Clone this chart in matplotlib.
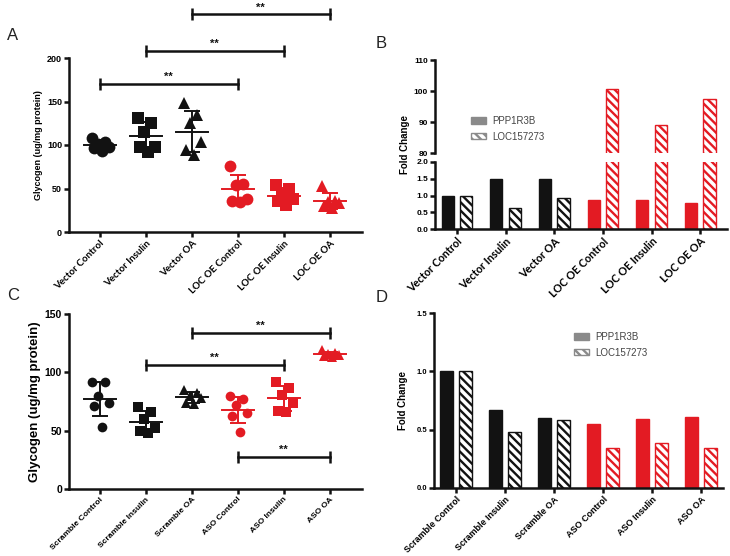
import numpy as np
import matplotlib
matplotlib.use("Agg")
import matplotlib.pyplot as plt
from matplotlib.patches import Patch

plt.rcParams['font.family'] = ['Liberation Sans', 'DejaVu Sans']
plt.rcParams['hatch.linewidth'] = 1.7

BLACK = '#121212'
RED = '#e31b23'

# ---------------- data ----------------
groups_A = ['Vector Control', 'Vector Insulin', 'Vector OA',
            'LOC OE Control', 'LOC OE Insulin', 'LOC OE OA']
A_vector_control = [108, 103, 101, 98, 96, 93]
A_vector_insulin = [131, 125, 115, 98, 98, 92]
A_vector_oa = [148, 134, 125, 103, 94, 88]
A_loc_control = [76, 55, 54, 38, 35, 36]
A_loc_insulin = [54, 50, 42, 38, 36, 31]
A_loc_oa = [53, 36, 34, 33, 30, 28]
A_sig = [(0, 3, 170), (1, 4, 208), (2, 5, 250)]

groups_B = groups_A
B_ppp1r3b = [1.0, 1.5, 1.5, 0.88, 0.86, 0.77]
B_loc157273 = [1.0, 0.63, 0.93, 100.8, 89.0, 97.5]

groups_C = ['Scramble Control', 'Scramble Insulin', 'Scramble OA',
            'ASO Control', 'ASO Insulin', 'ASO OA']
C_scr_control = [92, 92, 80, 74, 71, 53]
C_scr_insulin = [70, 66, 60, 52, 50, 48]
C_scr_oa = [85, 82, 80, 78, 74, 73]
C_aso_control = [80, 77, 72, 65, 63, 49]
C_aso_insulin = [92, 87, 81, 74, 67, 66]
C_aso_oa = [119, 117, 116, 115, 114, 113]
C_sig = [(2, 5, 134), (1, 4, 106), (3, 5, 27.5)]

groups_D = groups_C
D_ppp1r3b = [1.0, 0.67, 0.60, 0.55, 0.59, 0.61]
D_loc157273 = [1.0, 0.48, 0.58, 0.34, 0.39, 0.34]

JITTER = np.array([-0.17, 0.11, -0.05, 0.19, -0.13, 0.04])

W, H = 730, 556
fig = plt.figure(figsize=(W / 100, H / 100), dpi=100)


def ax_px(x0, y0, x1, y1):
    return fig.add_axes([x0 / W, 1 - y1 / H, (x1 - x0) / W, (y1 - y0) / H])


def style_axes(ax, lw=1.8):
    for s in ['top', 'right']:
        ax.spines[s].set_visible(False)
    for s in ['left', 'bottom']:
        ax.spines[s].set_linewidth(lw)
        ax.spines[s].set_color(BLACK)
    ax.tick_params(width=lw, length=3.5, color=BLACK, pad=1.5)


def dot_panel(ax, series, markers, colors, ms, labels, xfont, ylabel, ysize, tsize):
    for i, (vals, m, c) in enumerate(zip(series, markers, colors)):
        vals = np.asarray(vals, float)
        order = np.argsort(-vals)
        xs = np.empty(len(vals))
        xs[order] = i + JITTER[:len(vals)]
        ax.plot(xs, vals, linestyle='none', marker=m, color=c, markersize=ms,
                markeredgewidth=0, zorder=3)
        mu, sd = vals.mean(), vals.std(ddof=1)
        ax.plot([i - 0.35, i + 0.35], [mu, mu], color=c, lw=1.4, zorder=4)
        ax.errorbar([i], [mu], yerr=[sd], color=c, lw=1.4, capsize=5.5,
                    capthick=1.4, zorder=4)
    ax.set_xticks(range(len(labels)))
    ax.set_xticklabels(labels, rotation=45, ha='right', rotation_mode='anchor',
                       **xfont)
    ax.set_ylabel(ylabel, fontsize=ysize, fontweight='bold', labelpad=3)
    for t in ax.get_yticklabels():
        t.set_fontsize(tsize)
        t.set_fontweight('bold')


def sig_bars(ax, sigs, fs):
    for a, b, y in sigs:
        ax.plot([a, b], [y, y], color=BLACK, lw=1.8, marker='|', markersize=8,
                markeredgewidth=1.8, clip_on=False, zorder=5)
        ax.annotate('**', xy=((a + b) / 2, y), xytext=(0, 1.5),
                    textcoords='offset points', ha='center', va='bottom',
                    fontsize=fs, fontweight='bold', color=BLACK,
                    annotation_clip=False)


# ---------------- Panel A ----------------
axA = ax_px(69, 58, 362, 232)
style_axes(axA)
dot_panel(axA, [A_vector_control, A_vector_insulin, A_vector_oa,
                A_loc_control, A_loc_insulin, A_loc_oa],
          ['o', 's', '^', 'o', 's', '^'], [BLACK] * 3 + [RED] * 3, 8.5,
          groups_A, dict(fontsize=7, fontweight='bold', family='Lato'),
          'Glycogen (ug/mg protein)', 6.5, 6.5)
axA.set_ylim(0, 200)
axA.set_yticks([0, 50, 100, 150, 200])
axA.set_xlim(-0.67, 5.7)
sig_bars(axA, A_sig, 8)

# ---------------- Panel B ----------------
xB = (-0.45, 5.55)
axBt = ax_px(435, 60, 727, 153)
axBb = ax_px(435, 162, 727, 229)
idx = np.arange(len(groups_B))
colsB = [BLACK] * 3 + [RED] * 3
HATCH = '\\\\\\\\'
for ax in (axBt, axBb):
    ax.bar(idx - 0.19, B_ppp1r3b, width=0.25, color=colsB, edgecolor=colsB,
           linewidth=1)
    ax.bar(idx + 0.19, B_loc157273, width=0.25, color='white', edgecolor=colsB,
           linewidth=1, hatch=HATCH)
    style_axes(ax)
    ax.set_xlim(*xB)
axBt.set_ylim(80, 110)
axBt.set_yticks([80, 90, 100, 110])
axBt.spines['bottom'].set_visible(False)
axBt.tick_params(axis='x', bottom=False, labelbottom=False)
axBb.set_ylim(0, 2.0)
axBb.set_yticks([0.0, 0.5, 1.0, 1.5, 2.0])
axBb.set_yticklabels(['0.0', '0.5', '1.0', '1.5', '2.0'])
axBb.set_xticks(idx)
axBb.set_xticklabels(groups_B, rotation=45, ha='right', rotation_mode='anchor',
                     fontsize=7.8, fontweight='bold', family='Lato')
for ax in (axBt, axBb):
    for t in ax.get_yticklabels():
        t.set_fontsize(6)
        t.set_fontweight('bold')
fig.text(405 / W, 1 - 145 / H, 'Fold Change', rotation=90, ha='center',
         va='center', fontsize=7, fontweight='bold')

leg_handles = [Patch(facecolor='#8a8a8a', edgecolor='#8a8a8a'),
               Patch(facecolor='white', edgecolor='#8a8a8a', hatch=HATCH)]
leg_labels = ['PPP1R3B', 'LOC157273']
fig.legend(leg_handles, leg_labels, loc='upper left',
           bbox_to_anchor=(466 / W, 1 - 111 / H), frameon=False, fontsize=7,
           handlelength=1.6, handleheight=0.6, labelspacing=0.6,
           handletextpad=0.6, borderpad=0, labelcolor='#444444')

# ---------------- Panel C ----------------
axC = ax_px(69, 314, 362, 489)
style_axes(axC)
dot_panel(axC, [C_scr_control, C_scr_insulin, C_scr_oa,
                C_aso_control, C_aso_insulin, C_aso_oa],
          ['o', 's', '^', 'o', 's', '^'], [BLACK] * 3 + [RED] * 3, 7,
          groups_C, dict(fontsize=6, fontweight='bold'),
          'Glycogen (ug/mg protein)', 9.5, 7.5)
axC.set_ylim(0, 150)
axC.set_yticks([0, 50, 100, 150])
axC.set_xlim(-0.67, 5.7)
sig_bars(axC, C_sig, 8)

# ---------------- Panel D ----------------
axD = ax_px(434, 313, 723, 488)
style_axes(axD)
idxD = np.arange(len(groups_D))
axD.bar(idxD - 0.19, D_ppp1r3b, width=0.26, color=colsB, edgecolor=colsB,
        linewidth=1)
axD.bar(idxD + 0.19, D_loc157273, width=0.26, color='white', edgecolor=colsB,
        linewidth=1, hatch=HATCH)
axD.set_xlim(-0.45, 5.45)
axD.set_ylim(0, 1.5)
axD.set_yticks([0.0, 0.5, 1.0, 1.5])
axD.set_yticklabels(['0.0', '0.5', '1.0', '1.5'])
for t in axD.get_yticklabels():
    t.set_fontsize(5.5)
    t.set_fontweight('bold')
axD.set_xticks(idxD)
axD.set_xticklabels(groups_D, rotation=45, ha='right', rotation_mode='anchor',
                    fontsize=6.5, fontweight='bold')
axD.set_ylabel('Fold Change', fontsize=7, fontweight='bold', labelpad=6)
fig.legend(leg_handles, leg_labels, loc='upper left',
           bbox_to_anchor=(569 / W, 1 - 327 / H), frameon=False, fontsize=7,
           handlelength=1.6, handleheight=0.6, labelspacing=0.6,
           handletextpad=0.6, borderpad=0, labelcolor='#444444')

# ---------------- Panel letters ----------------
for lab, (x, y) in {'A': (7, 35), 'B': (376, 44), 'C': (7, 295),
                    'D': (376, 297)}.items():
    fig.text(x / W, 1 - y / H, lab, fontsize=12, ha='left', va='center',
             color='#222222')

fig.savefig('out.png', dpi=100)
